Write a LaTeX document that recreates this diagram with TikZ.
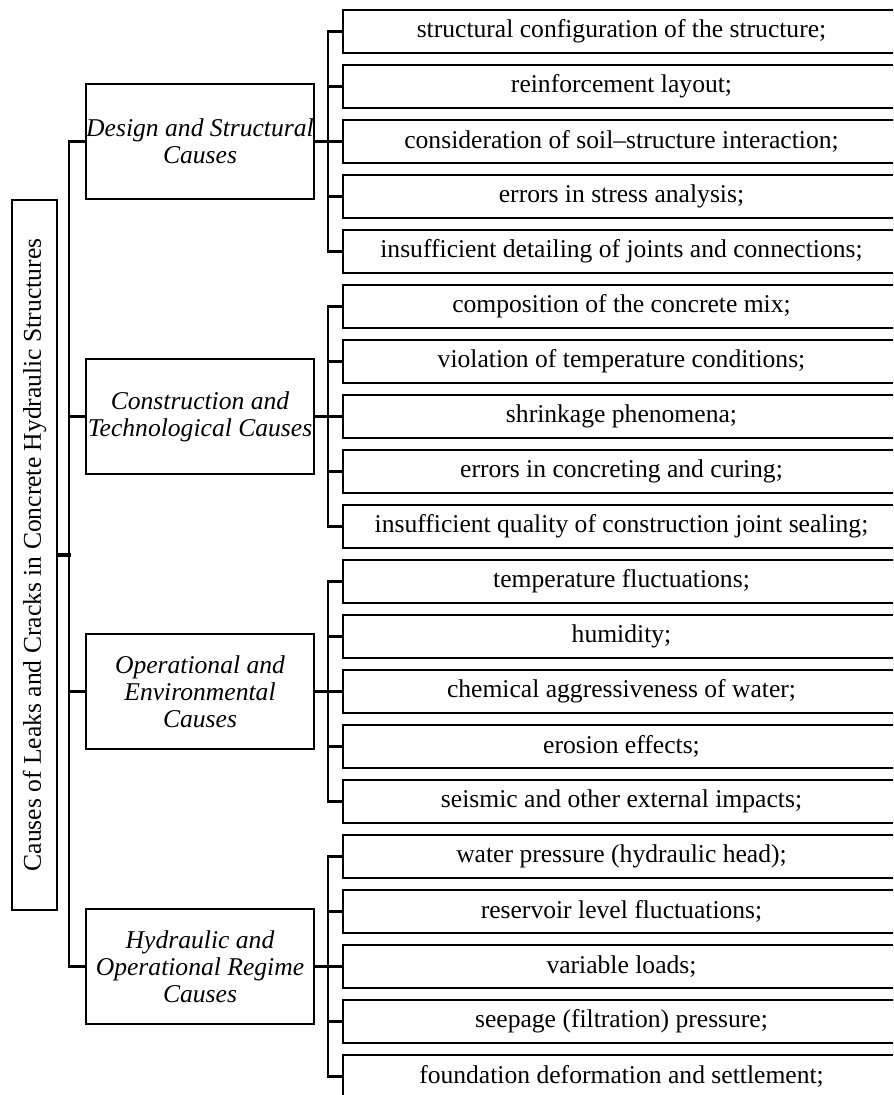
\documentclass[tikz,border=0pt]{standalone}
\usepackage{fontspec}
\setmainfont{Liberation Serif}
\usetikzlibrary{positioning}

\tikzset{
	leaf/.style={draw, line width=1.4pt, minimum width=278.5pt, minimum height=21.5pt, inner sep=0pt},
	group/.style={draw, line width=1.4pt, minimum width=114pt, minimum height=57.5pt, inner sep=0pt, align=center, font=\itshape},
	title/.style={draw, line width=1.4pt, minimum width=355pt, minimum height=22.5pt, inner sep=0pt, rotate=90},
	bus/.style={line width=1.1pt},
	link/.style={line width=1.7pt}
}

\begin{document}
\fontsize{12.8}{13.6}\selectfont
\begin{tikzpicture}[x=0.5pt, y=-0.5pt]
	\clip (0,0) rectangle (893,1095);

	\node (T) at (34.5,555) [title] {Causes of Leaks and Cracks in Concrete Hydraulic Structures};

	\node (G1) at (200,141.5) [group] {Design and Structural\\Causes};
	\node (G2) at (200,416.5) [group] {Construction and\\Technological Causes};
	\node (G3) at (200,691.5) [group] {Operational and\\Environmental\\Causes};
	\node (G4) at (200,966.5) [group] {Hydraulic and\\Operational Regime\\Causes};

	% design and structural
	\node (L11) at (621.5,31.5)  [leaf] {structural configuration of the structure;};
	\node (L12) at (621.5,86.5)  [leaf] {reinforcement layout;};
	\node (L13) at (621.5,141.5) [leaf] {consideration of soil--structure interaction;};
	\node (L14) at (621.5,196.5) [leaf] {errors in stress analysis;};
	\node (L15) at (621.5,251.5) [leaf] {insufficient detailing of joints and connections;};

	% construction and technological
	\node (L21) at (621.5,306.5) [leaf] {composition of the concrete mix;};
	\node (L22) at (621.5,361.5) [leaf] {violation of temperature conditions;};
	\node (L23) at (621.5,416.5) [leaf] {shrinkage phenomena;};
	\node (L24) at (621.5,471.5) [leaf] {errors in concreting and curing;};
	\node (L25) at (621.5,526.5) [leaf] {insufficient quality of construction joint sealing;};

	% operational and environmental
	\node (L31) at (621.5,581.5) [leaf] {temperature fluctuations;};
	\node (L32) at (621.5,636.5) [leaf] {humidity;};
	\node (L33) at (621.5,691.5) [leaf] {chemical aggressiveness of water;};
	\node (L34) at (621.5,746.5) [leaf] {erosion effects;};
	\node (L35) at (621.5,801.5) [leaf] {seismic and other external impacts;};

	% hydraulic and operational regime
	\node (L41) at (621.5,856.5)  [leaf] {water pressure (hydraulic head);};
	\node (L42) at (621.5,911.5)  [leaf] {reservoir level fluctuations;};
	\node (L43) at (621.5,966.5)  [leaf] {variable loads;};
	\node (L44) at (621.5,1021.5) [leaf] {seepage (filtration) pressure;};
	\node (L45) at (621.5,1076.5) [leaf] {foundation deformation and settlement;};

	% left bus
	\draw[bus] (G1.west) -- ++(-16,0) |- (G4.west);
	\draw[bus] (G2.west) -- ++(-16,0);
	\draw[bus] (G3.west) -- ++(-16,0);
	\draw[link] (T.south) -- ++(13,0);

	% right buses
	\draw[bus] (L11.west) -- ++(-14,0) |- (L15.west);
	\draw[bus] (L12.west) -- ++(-14,0);
	\draw[bus] (L14.west) -- ++(-14,0);
	\draw[link] (G1.east) -- (L13.west);

	\draw[bus] (L21.west) -- ++(-14,0) |- (L25.west);
	\draw[bus] (L22.west) -- ++(-14,0);
	\draw[bus] (L24.west) -- ++(-14,0);
	\draw[link] (G2.east) -- (L23.west);

	\draw[bus] (L31.west) -- ++(-14,0) |- (L35.west);
	\draw[bus] (L32.west) -- ++(-14,0);
	\draw[bus] (L34.west) -- ++(-14,0);
	\draw[link] (G3.east) -- (L33.west);

	\draw[bus] (L41.west) -- ++(-14,0) |- (L45.west);
	\draw[bus] (L42.west) -- ++(-14,0);
	\draw[bus] (L44.west) -- ++(-14,0);
	\draw[link] (G4.east) -- (L43.west);
\end{tikzpicture}
\end{document}
